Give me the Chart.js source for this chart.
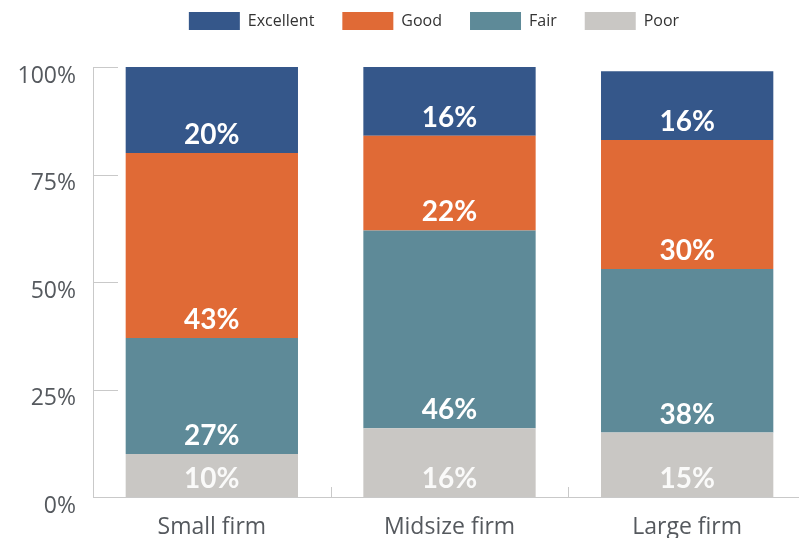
<!DOCTYPE html>
<html>
<head>
<meta charset="utf-8">
<script src="https://cdn.jsdelivr.net/npm/chart.js@4/dist/chart.umd.min.js"></script>
<style>
  html, body { margin: 0; padding: 0; background: #fff; overflow: hidden; }
  canvas { display: block; }
</style>
</head>
<body>
<canvas id="chart" width="806" height="538"></canvas>
<script>
// Survey ratings by firm size (share of respondents, %)
const categories = ['Small firm', 'Midsize firm', 'Large firm'];
const excellent = [20, 16, 16];
const good = [43, 22, 30];
const fair = [27, 46, 38];
const poor = [10, 16, 15];
const yTicks = [0, 25, 50, 75, 100];

const COLORS = {
  excellent: '#35578a',
  good: '#e06a36',
  fair: '#5e8a98',
  poor: '#c9c7c4'
};
const AXIS_COLOR = '#c9c9c9';
const TEXT_COLOR = '#55595e';

// Short inward tick marks on the value axis and category separators on the base line
const axisMarks = {
  id: 'axisMarks',
  beforeDatasetsDraw(chart) {
    const { ctx, chartArea, scales: { x, y } } = chart;
    ctx.save();
    ctx.strokeStyle = AXIS_COLOR;
    ctx.lineWidth = 1;
    ctx.beginPath();
    y.ticks.forEach(t => {
      if (t.value === 0) return;
      const py = Math.round(y.getPixelForValue(t.value)) + 0.5;
      ctx.moveTo(chartArea.left, py);
      ctx.lineTo(chartArea.left + 25, py);
    });
    for (let i = 0; i < x.ticks.length - 1; i++) {
      const px = Math.round((x.getPixelForTick(i) + x.getPixelForTick(i + 1)) / 2) + 0.5;
      ctx.moveTo(px, chartArea.bottom);
      ctx.lineTo(px, chartArea.bottom - 10);
    }
    ctx.stroke();
    ctx.restore();
  }
};

// Value labels written near the bottom of each stacked segment
const segmentLabels = {
  id: 'segmentLabels',
  afterDatasetsDraw(chart) {
    const { ctx } = chart;
    ctx.save();
    ctx.font = 'bold 28px Lato';
    ctx.textAlign = 'center';
    ctx.textBaseline = 'middle';
    chart.data.datasets.forEach((ds, di) => {
      const meta = chart.getDatasetMeta(di);
      meta.data.forEach((bar, i) => {
        const { x, base } = bar.getProps(['x', 'base'], true);
        ctx.fillStyle = ds.labelColor;
        ctx.fillText(ds.data[i] + '%', x, base - 18);
      });
    });
    ctx.restore();
  }
};

// Legend band height, raised swatches and a small horizontal nudge
const legendPlacement = {
  id: 'legendPlacement',
  beforeLayout(chart) {
    const lg = chart.legend;
    if (lg && !lg.__extended) {
      const fit = lg.fit.bind(lg);
      lg.fit = function () { fit(); this.height = 67; };
      lg.__extended = true;
    }
  },
  afterLayout(chart) {
    const lg = chart.legend;
    if (lg) {
      lg.left += 31; lg.right += 31;
      lg.top -= 16; lg.bottom -= 16;
    }
  }
};

new Chart(document.getElementById('chart'), {
  type: 'bar',
  data: {
    labels: categories,
    datasets: [
      { label: 'Poor', data: poor, backgroundColor: COLORS.poor, labelColor: 'rgba(255,255,255,0.9)' },
      { label: 'Fair', data: fair, backgroundColor: COLORS.fair, labelColor: '#ffffff' },
      { label: 'Good', data: good, backgroundColor: COLORS.good, labelColor: '#ffffff' },
      { label: 'Excellent', data: excellent, backgroundColor: COLORS.excellent, labelColor: '#ffffff' }
    ]
  },
  options: {
    responsive: false,
    animation: false,
    layout: { padding: 0 },
    datasets: {
      bar: { borderWidth: 0, categoryPercentage: 1, barPercentage: 0.725 }
    },
    plugins: {
      tooltip: { enabled: false },
      legend: {
        position: 'top',
        reverse: true,
        labels: {
          boxWidth: 51,
          boxHeight: 18,
          padding: 28,
          color: '#333',
          font: { family: 'Open Sans', size: 16 }
        }
      }
    },
    scales: {
      x: {
        stacked: true,
        afterFit: s => { s.height = 41; },
        grid: { display: false, drawTicks: false },
        border: { display: true, color: AXIS_COLOR },
        ticks: { color: TEXT_COLOR, padding: 17, font: { family: 'Open Sans', size: 23 } }
      },
      y: {
        stacked: true,
        min: 0,
        max: 100,
        afterBuildTicks: s => { s.ticks = yTicks.map(v => ({ value: v })); },
        afterFit: s => { s.width = 93; },
        grid: { display: false, drawTicks: false },
        border: { display: true, color: AXIS_COLOR },
        ticks: {
          color: TEXT_COLOR,
          padding: 17,
          labelOffset: 9,
          font: { family: 'Open Sans', size: 23 },
          callback: v => v + '%'
        }
      }
    }
  },
  plugins: [axisMarks, segmentLabels, legendPlacement]
});
</script>
</body>
</html>
